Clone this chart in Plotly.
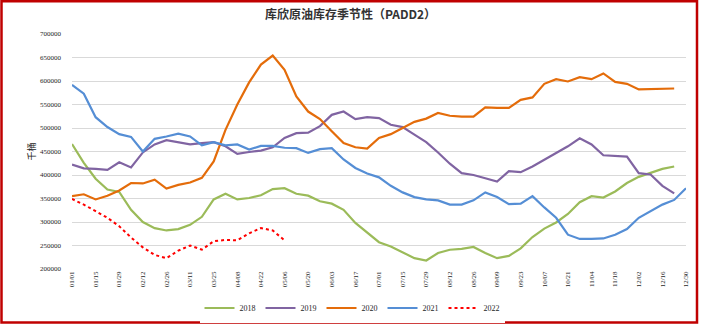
import plotly.graph_objects as go
import datetime as dt

# weekly categories (2020 calendar, leap year)
start = dt.date(2020, 1, 1)
categories = [(start + dt.timedelta(days=7 * i)).strftime("%m/%d") for i in range(53)]
tick_labels = categories[::2]

y2018 = [466000, 426000, 392000, 369000, 364000, 326000, 300000, 287000, 282000, 285000,
         294000, 311000, 348000, 360000, 348000, 351000, 357000, 370000, 372000, 360000,
         356000, 344000, 339000, 326000, 298000, 278000, 257000, 248000, 236000, 223000,
         218000, 234000, 241000, 243000, 247000, 234000, 223000, 228000, 244000, 268000,
         286000, 299000, 317000, 342000, 355000, 352000, 365000, 383000, 396000, 404000,
         413000, 418000]
y2019 = [422000, 414000, 413000, 411000, 427000, 416000, 448000, 465000, 474000, 469000,
         465000, 468000, 470000, 461000, 445000, 449000, 452000, 459000, 479000, 489000,
         490000, 504000, 528000, 535000, 519000, 523000, 521000, 507000, 502000, 486000,
         470000, 448000, 424000, 404000, 400000, 393000, 386000, 408000, 406000, 418000,
         432000, 447000, 461000, 478000, 465000, 442000, 441000, 439000, 404000, 401000,
         377000, 361000]
y2020 = [355000, 359000, 348000, 356000, 367000, 383000, 382000, 390000, 371000, 379000,
         384000, 394000, 429000, 496000, 550000, 597000, 635000, 654000, 624000, 567000,
         535000, 519000, 493000, 468000, 459000, 456000, 479000, 487000, 500000, 513000,
         520000, 532000, 526000, 524000, 524000, 544000, 543000, 543000, 560000, 565000,
         594000, 604000, 599000, 608000, 604000, 616000, 598000, 594000, 582000, 583000,
         583000, 584000]
y2021 = [592000, 573000, 523000, 502000, 487000, 481000, 450000, 477000, 482000, 488000,
         482000, 463000, 470000, 463000, 465000, 454000, 462000, 462000, 458000, 457000,
         447000, 455000, 457000, 433000, 415000, 403000, 395000, 377000, 363000, 353000,
         348000, 346000, 337000, 337000, 346000, 363000, 353000, 338000, 339000, 355000,
         331000, 309000, 273000, 264000, 264000, 265000, 273000, 285000, 309000, 323000,
         337000, 347000, 372000]
y2022 = [349000, 337000, 323000, 309000, 291000, 267000, 246000, 230000, 223000, 239000,
         250000, 241000, 259000, 262000, 261000, 276000, 287000, 282000, 261000]

series = [
    ("2018", y2018, "#9BBB59", "solid"),
    ("2019", y2019, "#8064A2", "solid"),
    ("2020", y2020, "#E46C0A", "solid"),
    ("2021", y2021, "#558ED5", "solid"),
    ("2022", y2022, "#FF0000", "dot"),
]

fig = go.Figure()
for name, vals, color, dash in series:
    fig.add_trace(go.Scatter(
        x=categories[:len(vals)], y=vals, name=name, mode="lines",
        line=dict(color=color, width=2.2 if dash == "solid" else 2.0, dash=dash),
    ))

W, H = 701, 325
L, R, T, B = 72, 15, 34, 56
pw, ph = W - L - R, H - T - B

def px_x(p):
    return (p - L) / pw

def px_y(p):
    return (H - B - p) / ph

tick_font = dict(family="Liberation Serif", size=7, color="#262626")

fig.update_layout(
    width=W, height=H,
    margin=dict(l=L, r=R, t=T, b=B, autoexpand=False),
    paper_bgcolor="white", plot_bgcolor="white",
    title=dict(text="<b>库欣原油库存季节性（PADD2）</b>", x=0.5, xanchor="center",
               y=1 - 15 / H, yanchor="middle",
               font=dict(family="Noto Sans CJK SC", size=12, color="#333333")),
    showlegend=True,
    legend=dict(orientation="h", x=px_x(352), xanchor="center", y=px_y(308), yanchor="middle",
                font=dict(family="Liberation Serif", size=8, color="#262626"),
                itemwidth=30, tracegroupgap=0),
    xaxis=dict(type="category", range=[0, 52], tickmode="array", tickvals=tick_labels,
               ticktext=tick_labels, tickangle=-90, showgrid=False, showline=False,
               ticks="", automargin=False, tickfont=tick_font),
    yaxis=dict(range=[200000, 700000], dtick=50000, tickformat="d", showgrid=True,
               gridcolor="#D9D9D9", gridwidth=1, zeroline=False, showline=False, ticks="",
               ticklabelstandoff=10, automargin=False, tickfont=tick_font),
    annotations=[dict(text="千桶", textangle=-90, x=px_x(22), y=px_y(152), xref="paper",
                      yref="paper", showarrow=False,
                      font=dict(family="Noto Sans CJK SC", size=9, color="#262626"))],
    shapes=[dict(type="rect", xref="paper", yref="paper",
                 x0=px_x(1.5), x1=px_x(697), y0=px_y(322.5), y1=px_y(1.2),
                 line=dict(color="#C00000", width=2.5), layer="below")],
)

fig.write_html("out.html")
